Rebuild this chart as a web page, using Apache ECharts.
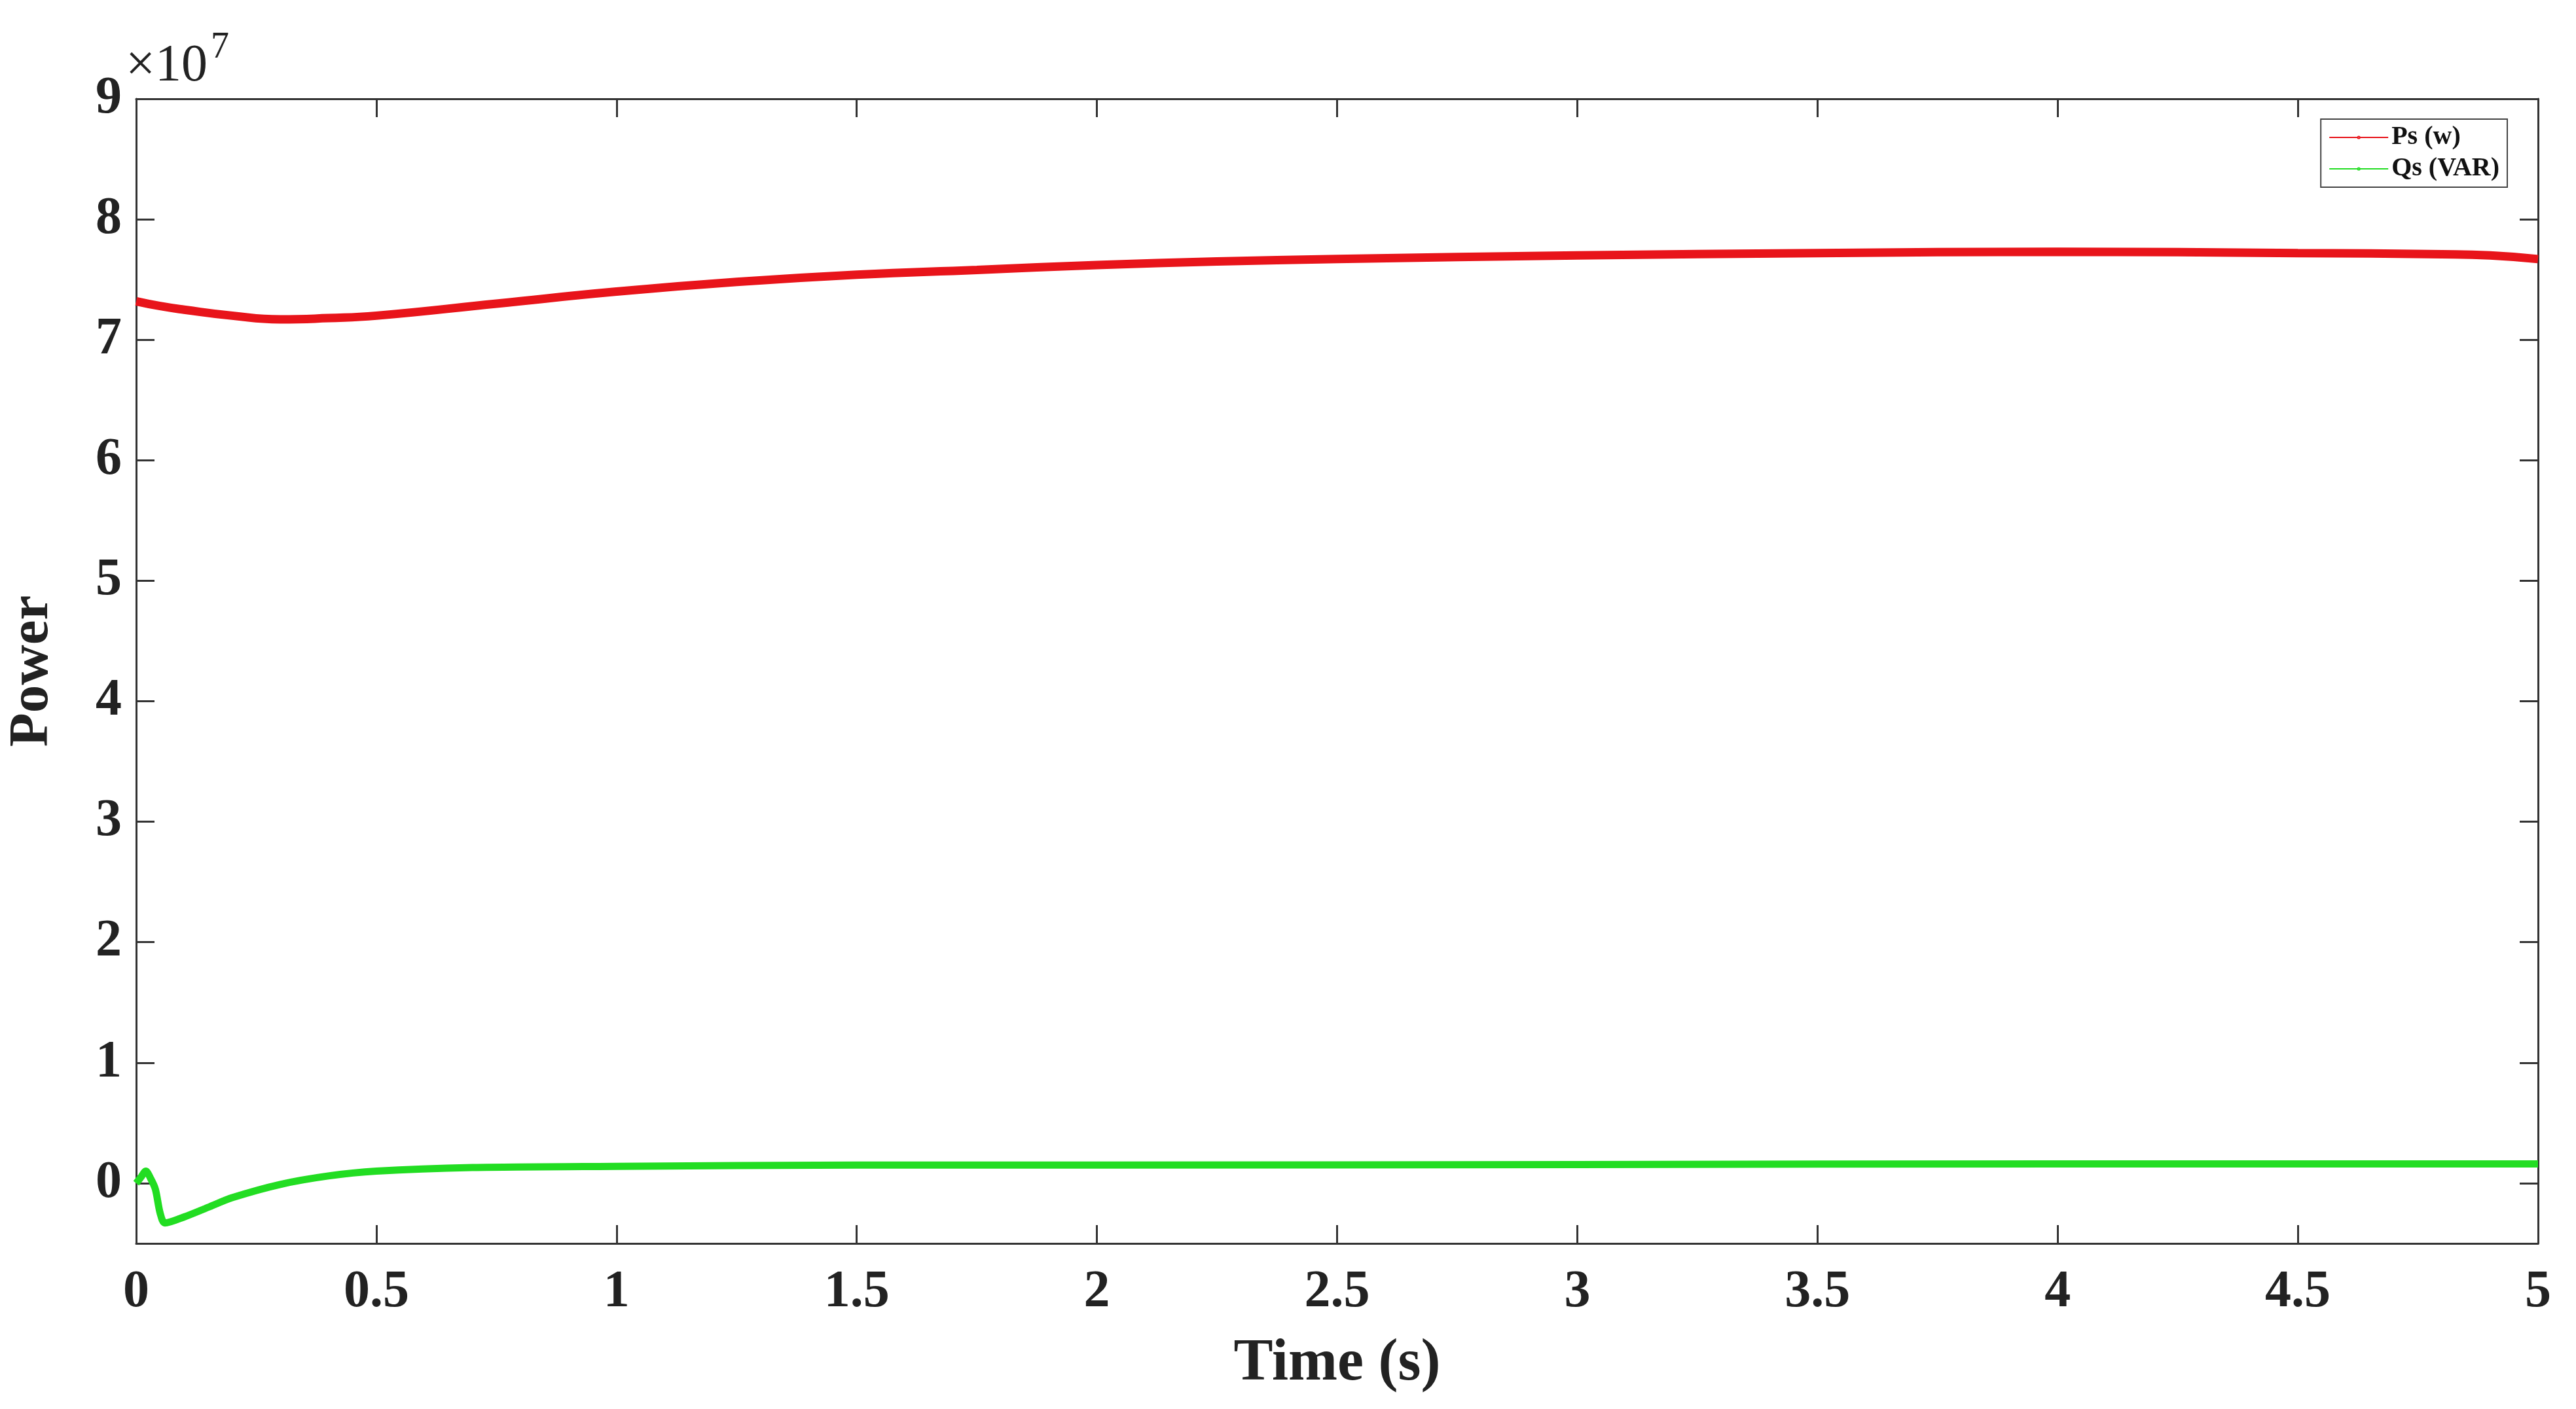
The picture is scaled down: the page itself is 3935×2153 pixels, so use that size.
<!DOCTYPE html>
<html><head><meta charset="utf-8">
<script src="https://cdn.jsdelivr.net/npm/echarts@6/dist/echarts.min.js"></script>
<style>html,body{margin:0;padding:0;background:#fff}#c{width:3935px;height:2153px}</style>
</head><body><div id="c"></div>
<script>
const psTime = [0,0.05,0.1,0.2,0.3,0.4,0.5,0.75,1,1.25,1.5,1.75,2,2.25,2.5,3,3.5,4,4.5,4.8,4.9,5];
const psVal  = [7.32,7.28,7.25,7.2,7.17,7.18,7.2,7.3,7.4,7.48,7.54,7.58,7.62,7.65,7.67,7.7,7.72,7.73,7.72,7.71,7.7,7.67];
const qsTime = [0,0.01,0.02,0.03,0.04,0.05,0.06,0.1,0.15,0.2,0.3,0.4,0.5,0.7,1,1.5,2,3,4,5];
const qsVal  = [0,0.05,0.1,0.04,-0.05,-0.25,-0.33,-0.28,-0.2,-0.12,-0.01,0.06,0.1,0.13,0.14,0.15,0.15,0.155,0.16,0.16];
const yTicks = [0,1,2,3,4,5,6,7,8,9];
const xTicks = [0,0.5,1,1.5,2,2.5,3,3.5,4,4.5,5];
const SCALE = 1e7;

const font = 'Liberation Serif';
const chart = echarts.init(document.getElementById('c'));
const lab = {fontFamily:font,fontWeight:'bold',fontSize:80,color:'#222'};
const axLine = {show:true,onZero:false,lineStyle:{color:'#333',width:3}};
const tick = (vals)=>({show:true,inside:true,length:28,lineStyle:{color:'#333',width:3},customValues:vals});
chart.setOption({
  animation:false,
  grid:{left:189,right:58,top:151,bottom:253},
  legend:{right:105,top:182,orient:'vertical',backgroundColor:'#fff',borderColor:'#444',borderWidth:2,padding:[8,12],itemGap:8,itemWidth:90,itemHeight:4,
    textStyle:{fontFamily:font,fontWeight:'bold',fontSize:40,color:'#111'},data:['Ps (w)','Qs (VAR)']},
  graphic:[{type:'text',left:192,top:62,style:{text:'×10',font:'80px Liberation Serif',fill:'#222'}},
           {type:'text',left:322,top:45,style:{text:'7',font:'56px Liberation Serif',fill:'#222'}}],
  xAxis:[{type:'value',min:0,max:5,name:'Time (s)',nameLocation:'middle',nameGap:140,
    nameTextStyle:{fontFamily:font,fontWeight:'bold',fontSize:90,color:'#222'},
    axisLine:axLine,axisTick:tick(xTicks),splitLine:{show:false},
    axisLabel:{...lab,margin:35,customValues:xTicks,formatter:v=>String(v)}},
    {type:'value',position:'top',min:0,max:5,axisLine:axLine,axisTick:tick(xTicks),axisLabel:{show:false},splitLine:{show:false}}],
  yAxis:[{type:'value',min:-0.5*SCALE,max:9*SCALE,name:'Power',nameLocation:'middle',nameGap:115,
    nameTextStyle:{fontFamily:font,fontWeight:'bold',fontSize:85,color:'#222'},
    axisLine:axLine,axisTick:tick(yTicks.map(v=>v*SCALE)),splitLine:{show:false},
    axisLabel:{...lab,margin:22,customValues:yTicks.map(v=>v*SCALE),formatter:v=>String(Math.round(v/SCALE))}},
    {type:'value',position:'right',min:-0.5*SCALE,max:9*SCALE,axisLine:axLine,axisTick:tick(yTicks.map(v=>v*SCALE)),axisLabel:{show:false},splitLine:{show:false}}],
  series:[
    {name:'Ps (w)',type:'line',showSymbol:false,smooth:true,color:'#e8141a',lineStyle:{width:13},data:psTime.map((t,i)=>[t,psVal[i]*SCALE])},
    {name:'Qs (VAR)',type:'line',showSymbol:false,smooth:0.3,color:'#22dd22',lineStyle:{width:11},data:qsTime.map((t,i)=>[t,qsVal[i]*SCALE])}
  ]
});
</script></body></html>
